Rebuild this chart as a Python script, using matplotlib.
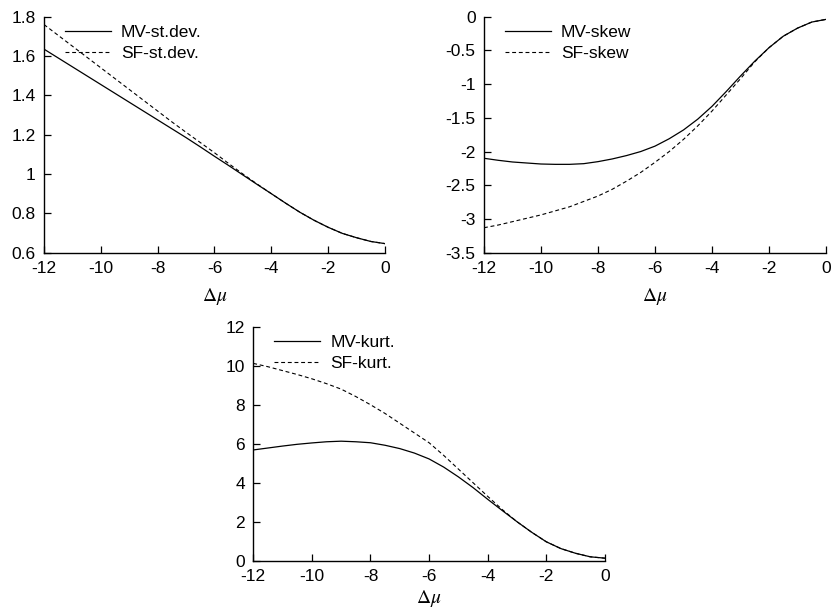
import matplotlib
matplotlib.use("Agg")
import matplotlib.pyplot as plt
import numpy as np

plt.rcParams['font.family'] = ['Liberation Sans', 'DejaVu Sans']
plt.rcParams['mathtext.fontset'] = 'stix'
plt.rcParams['axes.unicode_minus'] = False

# shift of the chemical potential, step 0.5
dmu = [-12, -11.5, -11, -10.5, -10, -9.5, -9, -8.5, -8, -7.5, -7, -6.5, -6,
       -5.5, -5, -4.5, -4, -3.5, -3, -2.5, -2, -1.5, -1, -0.5, 0]

# standard deviation
mv_std = [1.635, 1.59, 1.545, 1.50, 1.455, 1.41, 1.365, 1.32, 1.275, 1.23, 1.185,
          1.138, 1.09, 1.043, 0.995, 0.947, 0.90, 0.852, 0.806, 0.765, 0.729,
          0.698, 0.676, 0.657, 0.646]
sf_std = [1.76, 1.705, 1.65, 1.595, 1.54, 1.485, 1.43, 1.375, 1.32, 1.265, 1.212,
          1.16, 1.108, 1.053, 1.0, 0.949, 0.90, 0.852, 0.806, 0.765, 0.729,
          0.698, 0.676, 0.657, 0.646]

# skewness
mv_skew = [-2.10, -2.13, -2.155, -2.17, -2.185, -2.19, -2.19, -2.18, -2.15, -2.11,
           -2.06, -2.0, -1.92, -1.81, -1.68, -1.52, -1.33, -1.11, -0.88, -0.66,
           -0.46, -0.29, -0.17, -0.08, -0.04]
sf_skew = [-3.13, -3.09, -3.04, -2.99, -2.94, -2.88, -2.82, -2.74, -2.66, -2.56,
           -2.44, -2.31, -2.16, -2.0, -1.82, -1.62, -1.40, -1.16, -0.92, -0.67,
           -0.46, -0.29, -0.17, -0.08, -0.04]

# kurtosis
mv_kurt = [5.68, 5.78, 5.88, 5.97, 6.04, 6.1, 6.13, 6.1, 6.05, 5.92, 5.75, 5.52,
           5.22, 4.8, 4.3, 3.75, 3.15, 2.57, 2.0, 1.46, 0.97, 0.62, 0.38, 0.2, 0.13]
sf_kurt = [10.12, 9.95, 9.75, 9.55, 9.33, 9.08, 8.8, 8.42, 8.0, 7.55, 7.05, 6.55,
           6.05, 5.4, 4.7, 4.0, 3.3, 2.62, 2.0, 1.46, 0.97, 0.62, 0.38, 0.2, 0.13]

fig = plt.figure(figsize=(8.33, 6.13), dpi=100)
ax1 = fig.add_axes([0.0528, 0.5878, 0.4094, 0.385])
ax2 = fig.add_axes([0.581, 0.5878, 0.4106, 0.385])
ax3 = fig.add_axes([0.304, 0.0853, 0.4222, 0.3817])

panels = [
    (ax1, mv_std, sf_std, 'MV-st.dev.', 'SF-st.dev.', (0.6, 1.8), np.arange(0.6, 1.81, 0.2), 7),
    (ax2, mv_skew, sf_skew, 'MV-skew', 'SF-skew', (-3.5, 0), np.arange(-3.5, 0.01, 0.5), 7),
    (ax3, mv_kurt, sf_kurt, 'MV-kurt.', 'SF-kurt.', (0, 12), np.arange(0, 12.1, 2), 3),
]

def fmt(v):
    s = ('%.1f' % v).rstrip('0').rstrip('.')
    return '0' if s in ('-0', '0') else s

for ax, mv, sf, l1, l2, ylim, yt, lp in panels:
    ax.plot(dmu, mv, color='black', lw=0.9, label=l1)
    ax.plot(dmu, sf, color='black', lw=0.8, ls=(0, (3.5, 2.5)), label=l2)
    ax.set_xlim(-12, 0)
    ax.set_ylim(*ylim)
    ax.set_xticks(range(-12, 1, 2))
    ax.set_yticks(yt)
    ax.set_yticklabels([fmt(v) for v in yt])
    ax.spines['top'].set_visible(False)
    ax.spines['right'].set_visible(False)
    ax.spines['left'].set_linewidth(1.0)
    ax.spines['bottom'].set_linewidth(1.0)
    ax.tick_params(direction='in', length=5, width=0.9, labelsize=12.5, pad=6)
    ax.set_xlabel(r'$\Delta\mu$', fontsize=14, labelpad=lp)
    ax.legend(loc='upper left', frameon=False, fontsize=12.5, handlelength=2.65,
              handletextpad=0.6, labelspacing=0.35, borderaxespad=0.2,
              bbox_to_anchor=(0.03, 1.01))

fig.savefig('out.png', dpi=100)
